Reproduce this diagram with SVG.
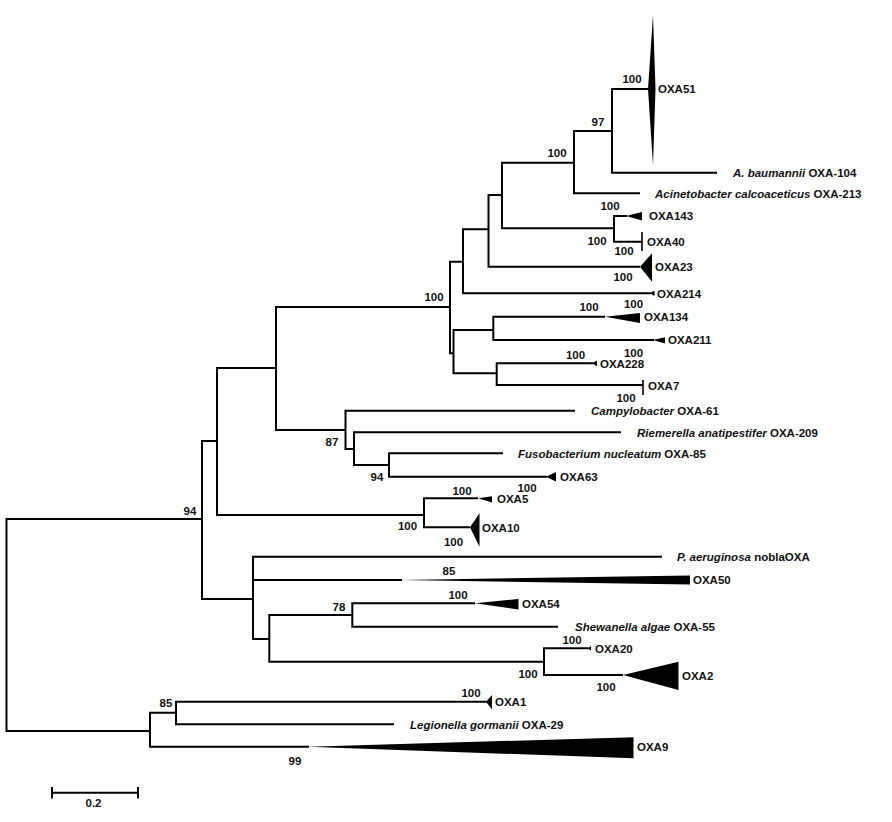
<svg xmlns="http://www.w3.org/2000/svg" width="892" height="822" viewBox="0 0 892 822">
<style>
.br{fill:none;stroke:#000;stroke-width:2;stroke-linejoin:miter;stroke-linecap:butt}
.bar{fill:none;stroke:#000;stroke-width:1.6}
.wg{fill:#000;stroke:none}
text{font-family:"Liberation Sans",Arial,sans-serif;font-weight:bold;font-size:11.5px;fill:#111}
.bs{text-anchor:middle}
.it{font-style:italic}
</style>
<rect width="892" height="822" fill="#fff"/>
<g id="connectors">
<path class="br" d="M202,519 H6.5 V731 H150"/>
<path class="br" d="M217,441 H202 V599 H253"/>
<path class="br" d="M276,368 H217 V515 H424"/>
<path class="br" d="M450,307 H276 V430 H345.5"/>
<path class="br" d="M463,261.7 H450 V353.3 H453.5"/>
<path class="br" d="M488.5,229.3 H463 V293.3 H651"/>
<path class="br" d="M502,195 H488.5 V266.7 H640"/>
<path class="br" d="M574,162.7 H502 V228.3 H614"/>
<path class="br" d="M612,131 H574 V193.3 H640"/>
<path class="br" d="M648,89 H612 V172.7 H717"/>
<path class="br" d="M627,216 H614 V241.7 H642"/>
<path class="br" d="M493.3,330 H453.5 V373.3 H496.7"/>
<path class="br" d="M605,316.7 H493.3 V340 H654"/>
<path class="br" d="M593,363.3 H496.7 V385 H643"/>
<path class="br" d="M575,410.7 H345.5 V449 H354"/>
<path class="br" d="M621,432.3 H354 V465 H389"/>
<path class="br" d="M503,453.3 H389 V476.7 H547"/>
<path class="br" d="M478,498.3 H424 V527.3 H470"/>
<path class="br" d="M662,556.7 H253 V639 H269.3 M253,580 H402"/>
<path class="br" d="M352.3,615 H269.3 V661.7 H544"/>
<path class="br" d="M475,603.3 H352.3 V626.7 H558"/>
<path class="br" d="M588,648.3 H544 V675 H623"/>
<path class="br" d="M176,712.7 H150 V746.7 H309"/>
<path class="br" d="M487,701.7 H176 V724.3 H394"/>
</g>
<g id="n-root"></g>
<g id="n-94a"><text class="bs" x="190" y="515">94</text></g>
<g id="n-100d"><text class="bs" x="434" y="301">100</text></g>
<g id="n-100h"><text class="bs" x="557" y="157">100</text></g>
<g id="n-97"><text class="bs" x="598" y="126">97</text></g>
<g id="n-100j"><text class="bs" x="597" y="245">100</text></g>
<g id="n-100l"><text class="bs" x="589" y="311">100</text></g>
<g id="n-100m"><text class="bs" x="575.5" y="359">100</text></g>
<g id="n-87"><text class="bs" x="332" y="445.5">87</text></g>
<g id="n-94p"><text class="bs" x="377" y="480.5">94</text></g>
<g id="n-100q"><text class="bs" x="407.5" y="530">100</text></g>
<g id="n-85a"><text class="bs" x="449" y="575">85</text></g>
<g id="n-78"><text class="bs" x="339" y="610.5">78</text></g>
<g id="n-100u"><text class="bs" x="528" y="677.5">100</text></g>
<g id="n-85b"><text class="bs" x="166" y="707">85</text></g>
<g id="n-99"><text class="bs" x="295" y="765">99</text></g>

<g id="leaf-oxa51"><polygon class="wg" points="648,89 653,15 655.5,89 653,165"/><text class="bs" x="632" y="83">100</text><text x="658" y="93">OXA51</text></g>
<g id="leaf-abaumannii"><text x="733" y="177"><tspan class="it">A. baumannii</tspan> OXA-104</text></g>
<g id="leaf-acinetobacter"><text x="655" y="197.5"><tspan class="it">Acinetobacter calcoaceticus</tspan> OXA-213</text></g>
<g id="leaf-oxa143"><polygon class="wg" points="626,216 642,212 642,220.5"/><text class="bs" x="610" y="210">100</text><text x="649" y="220">OXA143</text></g>
<g id="leaf-oxa40"><path class="bar" d="M642,232 V251"/><text class="bs" x="624" y="255">100</text><text x="647" y="246">OXA40</text></g>
<g id="leaf-oxa23"><polygon class="wg" points="640,266.7 652,253.3 652,281.7"/><text class="bs" x="623" y="281">100</text><text x="655" y="271">OXA23</text></g>
<g id="leaf-oxa214"><polygon class="wg" points="650,293.3 654.5,290.5 654.5,296"/><text x="657" y="297.5">OXA214</text></g>
<g id="leaf-oxa134"><polygon class="wg" points="605,316.7 640,313 640,323"/><text class="bs" x="633.5" y="308">100</text><text x="644" y="321">OXA134</text></g>
<g id="leaf-oxa211"><polygon class="wg" points="653,340 665,337.3 665,343.5"/><text x="668" y="344">OXA211</text></g>
<g id="leaf-oxa228"><polygon class="wg" points="592,363.3 597,360.5 597,366.3"/><text class="bs" x="633.5" y="357">100</text><text x="600" y="367.5">OXA228</text></g>
<g id="leaf-oxa7"><path class="bar" d="M643,380 V395"/><text class="bs" x="626" y="402">100</text><text x="648" y="389.5">OXA7</text></g>
<g id="leaf-campylobacter"><text x="591" y="415"><tspan class="it">Campylobacter</tspan> OXA-61</text></g>
<g id="leaf-riemerella"><text x="637" y="436.5"><tspan class="it">Riemerella anatipestifer</tspan> OXA-209</text></g>
<g id="leaf-fusobacterium"><text x="518" y="457.5"><tspan class="it">Fusobacterium nucleatum</tspan> OXA-85</text></g>
<g id="leaf-oxa63"><polygon class="wg" points="546,476.7 556,472 556,481.5"/><text class="bs" x="527" y="491.5">100</text><text x="560" y="481">OXA63</text></g>
<g id="leaf-oxa5"><polygon class="wg" points="478,498.3 492,496.3 492,502.5"/><text class="bs" x="462" y="495">100</text><text x="497" y="503">OXA5</text></g>
<g id="leaf-oxa10"><polygon class="wg" points="470,527.3 479.5,513.3 479.5,546.7"/><text class="bs" x="453.5" y="545.5">100</text><text x="482" y="532">OXA10</text></g>
<g id="leaf-paeruginosa"><text x="677" y="561"><tspan class="it">P. aeruginosa</tspan> noblaOXA</text></g>
<g id="leaf-oxa50"><polygon class="wg" points="400,580 690,575.5 690,584.5"/><text x="693" y="584">OXA50</text></g>
<g id="leaf-oxa54"><polygon class="wg" points="475,603.3 518.5,599 518.5,609.5"/><text class="bs" x="458" y="599">100</text><text x="522" y="608">OXA54</text></g>
<g id="leaf-shewanella"><text x="575" y="631"><tspan class="it">Shewanella algae</tspan> OXA-55</text></g>
<g id="leaf-oxa20"><polygon class="wg" points="587,648.3 591,646.3 591,650.5"/><text class="bs" x="572" y="644">100</text><text x="595" y="652.5">OXA20</text></g>
<g id="leaf-oxa2"><polygon class="wg" points="623,675 678.5,661.7 678.5,690"/><text class="bs" x="606" y="690.5">100</text><text x="682" y="679.5">OXA2</text></g>
<g id="leaf-oxa1"><polygon class="wg" points="486,701.7 492,695 492,709.5"/><text class="bs" x="471" y="696.5">100</text><text x="495" y="706">OXA1</text></g>
<g id="leaf-legionella"><text x="410" y="728.5"><tspan class="it">Legionella gormanii</tspan> OXA-29</text></g>
<g id="leaf-oxa9"><polygon class="wg" points="308,746.7 633.5,737.3 633.5,758.3"/><text x="637" y="751">OXA9</text></g>
<g id="scale">
<path class="br" d="M52,792.7 H138 M52,787 V798.5 M138,787 V798.5"/>
<text class="bs" x="93.5" y="807">0.2</text>
</g>
</svg>
